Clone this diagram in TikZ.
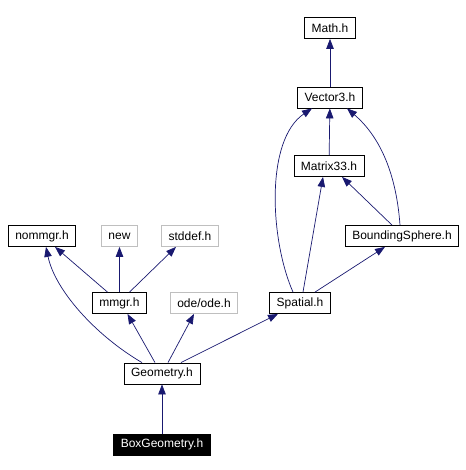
\documentclass[tikz,border=0pt]{standalone}
\usepackage{fontspec}
\setmainfont{Liberation Sans}
\usetikzlibrary{arrows.meta}
\definecolor{edgeblue}{HTML}{191970}
\definecolor{extgray}{HTML}{BFBFBF}
\begin{document}
\begin{tikzpicture}[x=1pt,y=-1pt,>={Triangle[length=10pt,width=7.5pt]},
		file/.style={draw=black,fill=white,line width=0.8pt,minimum height=21pt,inner xsep=7pt,inner ysep=0pt,font=\fontsize{12}{14}\selectfont},
		ext/.style={file,draw=extgray},
		main/.style={file,fill=black,text=white},
		dep/.style={->,draw=edgeblue,line width=0.7pt}]
				\useasboundingbox (0,0) rectangle (465,470);
				\node[file] (math) at (330,28) {Math.h};
				\node[file] (vec) at (330,97.5) {Vector3.h};
				\node[file] (mat) at (329,166) {Matrix33.h};
				\node[file] (bsph) at (402,236) {BoundingSphere.h};
				\node[file] (spat) at (300,303) {Spatial.h};
				\node[file] (nom) at (42,236) {nommgr.h};
				\node[ext] (new) at (119.5,236) {new};
				\node[ext] (std) at (190,236) {stddef.h};
				\node[file] (mmgr) at (119.5,303) {mmgr.h};
				\node[ext] (ode) at (204,303) {ode/ode.h};
				\node[file] (geom) at (162,373.5) {Geometry.h};
				\node[main] (box) at (162,444.5) {BoxGeometry.h};
				\draw[dep] (box) -- (geom);
				\draw[dep] ([xshift=-20pt]geom.north) .. controls (95,335) and (55,290) .. ([xshift=4pt]nom.south);
				\draw[dep] ([xshift=-7pt]geom.north) -- ([xshift=8pt]mmgr.south);
				\draw[dep] ([xshift=6pt]geom.north) -- ([xshift=-10pt]ode.south);
				\draw[dep] ([xshift=19pt]geom.north) -- ([xshift=-22pt]spat.south);
				\draw[dep] ([xshift=-12pt]mmgr.north) -- ([xshift=13pt]nom.south);
				\draw[dep] (mmgr) -- (new);
				\draw[dep] ([xshift=10pt]mmgr.north) -- ([xshift=-14pt]std.south);
				\draw[dep] ([xshift=-7pt]spat.north) .. controls (270,240) and (265,140) .. ([xshift=-18pt]vec.south);
				\draw[dep] ([xshift=3pt]spat.north) -- ([xshift=-6pt]mat.south);
				\draw[dep] ([xshift=15pt]spat.north) -- ([xshift=-17pt]bsph.south);
				\draw[dep] ([xshift=-10pt]bsph.north) -- ([xshift=13pt]mat.south);
				\draw[dep] ([xshift=-2pt]bsph.north) .. controls (396,170) and (378,135) .. ([xshift=17pt]vec.south);
				\draw[dep] (vec) -- (math);
				\draw[dep] (mat) -- (vec);
		\end{tikzpicture}
\end{document}
